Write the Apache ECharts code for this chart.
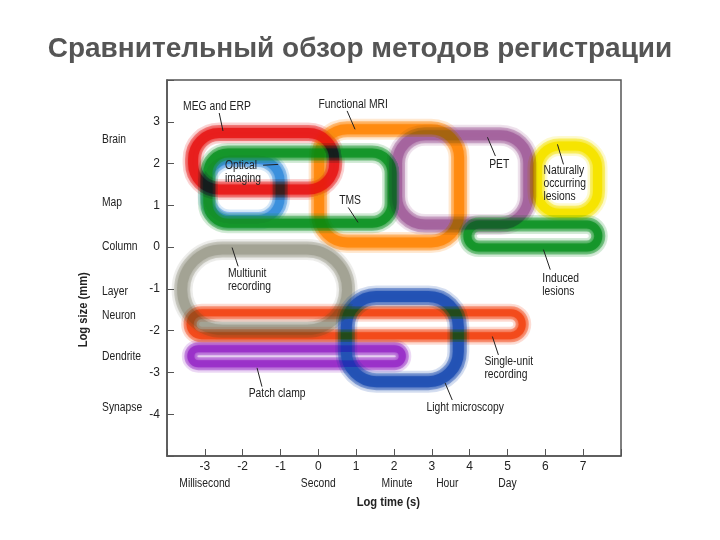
<!DOCTYPE html>
<html><head><meta charset="utf-8">
<script src="https://cdn.jsdelivr.net/npm/echarts@6/dist/echarts.min.js"></script>
<style>html,body{margin:0;padding:0;background:#fff}#c{width:720px;height:540px}</style>
</head><body><div id="c"></div>
<script>
// ---- data ----
const methods   = ['Optical imaging','MEG and ERP','TMS','Functional MRI','PET','Naturally occurring lesions','Induced lesions','Multiunit recording','Single-unit recording','Patch clamp','Light microscopy'];
const timeFrom  = [-2.92,-3.31,-2.92, 0.02, 2.08, 5.79, 3.94,-3.60,-3.39,-3.37, 0.74];
const timeTo    = [-1.01, 0.42, 1.95, 3.72, 5.55, 7.38, 7.40, 0.76, 5.39, 2.22, 3.70];
const sizeFrom  = [ 0.66, 1.38, 0.57, 0.11, 0.54, 0.81,-0.01,-1.98,-2.12,-2.79,-3.22];
const sizeTo    = [ 2.10, 2.73, 2.25, 2.82, 2.68, 2.42, 0.54,-0.06,-1.57,-2.43,-1.18];

const sizeScaleNames  = ['Brain','Map','Column','Layer','Neuron','Dendrite','Synapse'];
const sizeScaleValues = [2.56, 1.07, 0.0, -1.06, -1.64, -2.62, -3.85];
const timeScaleNames  = ['Millisecond','Second','Minute','Hour','Day'];
const timeScaleValues = [-3, 0, 2.08, 3.41, 5.0];

const xTickLabels = [-3,-2,-1,0,1,2,3,4,5,6,7];
const yTickLabels = [-4,-3,-2,-1,0,1,2,3];

const annoText = ['MEG and ERP','Functional MRI','Optical\nimaging','TMS','PET','Naturally\noccurring\nlesions','Induced\nlesions','Multiunit\nrecording','Patch clamp','Single-unit\nrecording','Light microscopy'];
const annoX    = [-2.68, 0.92,-2.47, 0.84, 4.78, 5.95, 5.92,-2.39,-1.09, 4.39, 3.88];
const annoY    = [ 3.35, 3.42, 1.79, 1.10, 1.98, 1.53,-0.90,-0.80,-3.51,-2.89,-3.85];
const leadX0   = [-2.62, 0.76,-1.46, 0.79, 4.47, 6.32, 5.95,-2.28,-1.62, 4.60, 3.35];
const leadY0   = [ 3.21, 3.26, 1.96, 0.95, 2.63, 2.46,-0.06,-0.01,-2.89,-2.14,-3.25];
const leadX1   = [-2.52, 0.97,-1.06, 1.05, 4.68, 6.48, 6.13,-2.12,-1.49, 4.76, 3.54];
const leadY1   = [ 2.78, 2.82, 1.98, 0.59, 2.18, 1.98,-0.54,-0.46,-3.34,-2.58,-3.66];

// ---- styles ----
const shapeColors = ['#3a8fdc','#e81e1c','#15962a','#ff8a10','#a4649e','#f6e400','#15962a','#a2a294','#f24a1a','#9a30c8','#2352b4'];
const shapeRadius = [22, 26, 20, 28, 28, 22, 12, 40, 12, 8, 30];
const shapeWidth  = [12, 13, 12, 13, 13, 12, 11, 13, 10, 10, 14];
const annoAlign   = ['center','center','left','center','center','left','left','left','center','left','center'];
const FONT = '"Liberation Sans",Arial,sans-serif';
const NARROW = 0.86;

const chart = echarts.init(document.getElementById('c'), null, {renderer:'canvas'});

function renderShape(params, api){
  const i = params.dataIndex;
  const tl = api.coord([api.value(0), api.value(3)]);
  const br = api.coord([api.value(1), api.value(2)]);
  const x = tl[0], y = tl[1], w = br[0]-tl[0], h = br[1]-tl[1];
  const r = Math.min(shapeRadius[i], w/2, h/2);
  const c = shapeColors[i], lw = shapeWidth[i];
  const sh = {x:x,y:y,width:w,height:h,r:r};
  return {type:'group', children:[
    {type:'rect', shape:sh, style:{fill:'none', stroke:c, lineWidth:lw+8, opacity:0.18}},
    {type:'rect', shape:sh, style:{fill:'none', stroke:c, lineWidth:lw+3, opacity:0.45}},
    {type:'rect', shape:sh, style:{fill:'none', stroke:c, lineWidth:lw-3, opacity:0.95, shadowBlur:4, shadowColor:c}}
  ]};
}

function narrowText(text, px, py, align, font){
  return {type:'text', x:px, y:py, scaleX:NARROW,
    style:{text:text, x:0, y:0, align:align, verticalAlign:'middle', fill:'#222', font:font, lineHeight:13}};
}

function renderAnno(params, api){
  const i = params.dataIndex;
  const p = api.coord([api.value(0), api.value(1)]);
  const a = api.coord([api.value(2), api.value(3)]);
  const b = api.coord([api.value(4), api.value(5)]);
  return {type:'group', children:[
    {type:'line', shape:{x1:a[0],y1:a[1],x2:b[0],y2:b[1]}, style:{stroke:'#222', lineWidth:1}},
    narrowText(annoText[i], p[0], p[1], annoAlign[i], '12px '+FONT)
  ]};
}

function renderSizeName(params, api){
  const p = api.coord([api.value(0), api.value(1)]);
  return narrowText(sizeScaleNames[params.dataIndex], p[0]-65, p[1], 'left', '12px '+FONT);
}
function renderTimeName(params, api){
  const p = api.coord([api.value(0), api.value(1)]);
  return narrowText(timeScaleNames[params.dataIndex], p[0], p[1]+28, 'center', '12px '+FONT);
}
function renderYTitle(params, api){
  const p = api.coord([api.value(0), api.value(1)]);
  return {type:'text', x:p[0]-84, y:p[1], rotation:Math.PI/2, scaleX:NARROW,
    style:{text:'Log size (mm)', x:0, y:0, align:'center', verticalAlign:'middle', fill:'#222', font:'bold 13px '+FONT}};
}
function renderXTitle(params, api){
  const p = api.coord([api.value(0), api.value(1)]);
  return {type:'text', x:p[0], y:p[1]+46, scaleX:NARROW,
    style:{text:'Log time (s)', x:0, y:0, align:'center', verticalAlign:'middle', fill:'#222', font:'bold 13px '+FONT}};
}

chart.setOption({
  animation:false,
  backgroundColor:'#fff',
  title:{text:'Сравнительный обзор методов регистрации', left:'center', top:30,
    textStyle:{fontFamily:FONT, fontWeight:'bold', fontSize:28, color:'#555'}},
  grid:{left:167, top:80, right:99, bottom:84, show:true, borderColor:'#555', borderWidth:1.5, backgroundColor:'transparent'},
  xAxis:{type:'value', min:-4, max:8, interval:1,
    axisLine:{onZero:false, lineStyle:{color:'#555', width:1.5}},
    axisTick:{inside:true, length:7, lineStyle:{color:'#555'}},
    axisLabel:{color:'#222', fontFamily:FONT, fontSize:12, margin:5,
      formatter:function(v){ return xTickLabels.indexOf(v) >= 0 ? String(v) : ''; }},
    splitLine:{show:false}},
  yAxis:{type:'value', min:-5, max:4, interval:1,
    axisLine:{onZero:false, lineStyle:{color:'#555', width:1.5}},
    axisTick:{inside:true, length:7, lineStyle:{color:'#555'}},
    axisLabel:{color:'#222', fontFamily:FONT, fontSize:12, margin:7,
      formatter:function(v){ return yTickLabels.indexOf(v) >= 0 ? String(v) : ''; }},
    splitLine:{show:false}},
  series:[
    {type:'custom', renderItem:renderShape, encode:{x:[0,1], y:[2,3]}, blendMode:'darken',
      data: methods.map(function(m,i){ return {name:m, value:[timeFrom[i], timeTo[i], sizeFrom[i], sizeTo[i]]}; })},
    {type:'custom', renderItem:renderAnno, encode:{x:[0,2,4], y:[1,3,5]},
      data: annoText.map(function(t,i){ return [annoX[i], annoY[i], leadX0[i], leadY0[i], leadX1[i], leadY1[i]]; })},
    {type:'custom', renderItem:renderSizeName, encode:{x:0, y:1},
      data: sizeScaleValues.map(function(v){ return [-4, v]; })},
    {type:'custom', renderItem:renderTimeName, encode:{x:0, y:1},
      data: timeScaleValues.map(function(v){ return [v, -5]; })},
    {type:'custom', renderItem:renderYTitle, encode:{x:0, y:1}, data:[[-4, -1.5]]},
    {type:'custom', renderItem:renderXTitle, encode:{x:0, y:1}, data:[[1.85, -5]]}
  ]
});
</script></body></html>
